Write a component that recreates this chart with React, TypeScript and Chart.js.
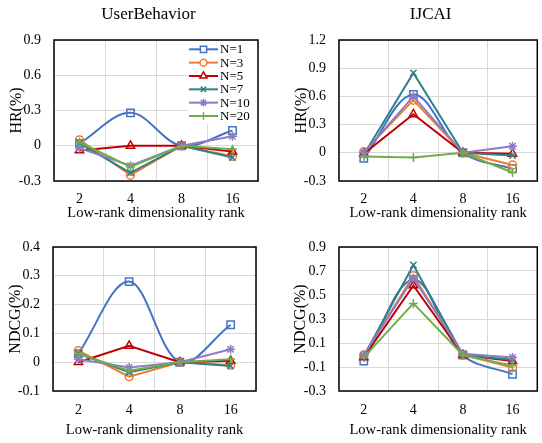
import React, { useEffect, useRef } from 'react';
import { Chart, registerables } from 'chart.js';
import { drawPoint } from 'chart.js/helpers';

Chart.register(...registerables);

const ranks = ['2', '4', '8', '16'];
const seriesNames = ['N=1', 'N=3', 'N=5', 'N=7', 'N=10', 'N=20'];
const seriesColors = ['#4472C4', '#ED7D31', '#C00000', '#2F8087', '#8E7CC3', '#70AD47'];
const seriesMarkers = ['rect', 'circle', 'triangle', 'crossRot', 'star', 'cross'];
const seriesMarkerRadius = [5.2, 4, 4.8, 4.5, 4.5, 4.5];
const seriesTension = [0.35, 0, 0, 0, 0, 0];

// HR(%) UserBehavior, per series N=1,3,5,7,10,20
const hrUserBehavior = [
  [0.02, 0.28, 0.0, 0.13],
  [0.05, -0.25, 0.0, -0.09],
  [-0.04, 0.0, 0.0, -0.05],
  [0.02, -0.23, 0.0, -0.1],
  [-0.02, -0.17, 0.0, 0.08],
  [0.03, -0.18, 0.0, -0.03],
];
// HR(%) IJCAI
const hrIJCAI = [
  [-0.06, 0.62, 0.0, -0.17],
  [0.01, 0.56, 0.0, -0.13],
  [-0.01, 0.41, 0.0, -0.01],
  [-0.02, 0.85, 0.0, -0.03],
  [0.0, 0.6, 0.0, 0.07],
  [-0.04, -0.05, 0.0, -0.21],
];
// NDCG(%) UserBehavior
const ndcgUserBehavior = [
  [0.03, 0.28, 0.0, 0.13],
  [0.04, -0.05, 0.0, -0.01],
  [0.0, 0.057, 0.0, 0.005],
  [0.03, -0.035, 0.0, -0.013],
  [0.01, -0.018, 0.0, 0.045],
  [0.03, -0.03, 0.0, 0.01],
];
// NDCG(%) IJCAI
const ndcgIJCAI = [
  [-0.05, 0.63, 0.0, -0.16],
  [0.0, 0.66, 0.0, -0.105],
  [-0.02, 0.58, 0.0, -0.05],
  [-0.01, 0.75, 0.0, -0.04],
  [0.0, 0.64, 0.01, -0.02],
  [-0.02, 0.43, 0.0, -0.09],
];

const hrUBTicks = [-0.3, 0, 0.3, 0.6, 0.9];
const hrIJTicks = [-0.3, 0, 0.3, 0.6, 0.9, 1.2];
const ndcgUBTicks = [-0.1, 0, 0.1, 0.2, 0.3, 0.4];
const ndcgIJTicks = [-0.3, -0.1, 0.1, 0.3, 0.5, 0.7, 0.9];

const FONT = "'Liberation Serif', 'Times New Roman', serif";

type PanelProps = {
  left: number; top: number; width: number; height: number;
  data: number[][]; ticks: number[]; yTitle: string; title?: string; legend?: boolean;
  padL: number; padT: number; padR: number; padB: number;
  yTitlePad: number; xTickPad: number; xTitlePad: number;
};

function Panel(p: PanelProps) {
  const ref = useRef<HTMLCanvasElement | null>(null);
  useEffect(() => {
    if (!ref.current) return;
    const plugin = {
      id: 'deco',
      afterDatasetsDraw(chart: any) {
        const ctx = chart.ctx;
        const a = chart.chartArea;
        if (p.legend) {
          ctx.save();
          ctx.fillStyle = '#fff';
          ctx.fillRect(a.right - 70, a.top + 1, 70, 83);
          seriesNames.forEach((name, i) => {
            const y = a.top + 9.3 + i * 13.34;
            ctx.strokeStyle = seriesColors[i];
            ctx.lineWidth = 2;
            ctx.beginPath();
            ctx.moveTo(a.right - 69, y);
            ctx.lineTo(a.right - 40, y);
            ctx.stroke();
            ctx.lineWidth = 1.5;
            ctx.fillStyle = 'rgba(255,255,255,1)';
            drawPoint(ctx, { pointStyle: seriesMarkers[i], radius: seriesMarkerRadius[i] * 0.85, rotation: 0, borderWidth: 1.5 } as any, a.right - 54.5, y);
            ctx.fillStyle = '#000';
            ctx.font = `13px ${FONT}`;
            ctx.textBaseline = 'middle';
            ctx.textAlign = 'left';
            ctx.fillText(name, a.right - 38, y + 0.5);
          });
          ctx.restore();
        }
      },
      afterDraw(chart: any) {
        const ctx = chart.ctx;
        const a = chart.chartArea;
        ctx.save();
        ctx.strokeStyle = '#000';
        ctx.lineWidth = 1.5;
        ctx.strokeRect(a.left, a.top, a.right - a.left, a.bottom - a.top);
        if (p.title) {
          ctx.fillStyle = '#000';
          ctx.font = `17px ${FONT}`;
          ctx.textAlign = 'center';
          ctx.textBaseline = 'middle';
          ctx.fillText(p.title, (a.left + a.right) / 2 - 7.5, 15);
        }
        ctx.restore();
      },
    };
    const chart = new Chart(ref.current, {
      type: 'line',
      data: {
        labels: ranks,
        datasets: p.data.map((vals, i) => ({
          label: seriesNames[i],
          data: vals,
          borderColor: seriesColors[i],
          backgroundColor: 'rgba(255,255,255,0)',
          borderWidth: 2,
          tension: seriesTension[i],
          pointStyle: seriesMarkers[i] as any,
          pointRadius: seriesMarkerRadius[i],
          pointBorderWidth: 1.5,
          pointBorderColor: seriesColors[i],
          pointBackgroundColor: 'rgba(255,255,255,0)',
          order: seriesNames.length - i,
          fill: false,
        })),
      },
      options: {
        animation: false,
        responsive: false,
        events: [],
        layout: { padding: { left: 0, top: p.padT, right: p.padR, bottom: 0 } },
        plugins: { legend: { display: false }, tooltip: { enabled: false }, title: { display: false } },
        scales: {
          x: {
            type: 'category',
            offset: true,
            grid: { offset: true, color: '#D9D9D9', lineWidth: 1, drawTicks: false },
            border: { display: false },
            ticks: { padding: p.xTickPad, color: '#000', font: { family: FONT, size: 14 } },
            title: {
              display: true, text: 'Low-rank dimensionality rank', color: '#000',
              font: { family: FONT, size: 14.6 }, padding: { top: 0, bottom: p.xTitlePad },
            },
            afterFit: (s: any) => { s.height = p.padB; },
          },
          y: {
            type: 'linear',
            min: p.ticks[0],
            max: p.ticks[p.ticks.length - 1],
            afterBuildTicks: (s: any) => { s.ticks = p.ticks.map((v) => ({ value: v })); },
            grid: { color: '#D9D9D9', lineWidth: 1, drawTicks: false },
            border: { display: false },
            ticks: {
              padding: 13, color: '#000', font: { family: FONT, size: 14 },
              callback: (v: any) => String(Math.round(Number(v) * 10) / 10),
            },
            title: {
              display: true, text: p.yTitle, color: '#000',
              font: { family: FONT, size: 16 }, padding: { top: p.yTitlePad, bottom: 0 },
            },
            afterFit: (s: any) => { s.width = p.padL; },
          },
        },
      } as any,
      plugins: [plugin],
    });
    return () => chart.destroy();
  }, []);
  return (
    <canvas
      ref={ref}
      width={p.width}
      height={p.height}
      style={{ position: 'absolute', left: p.left, top: p.top, width: p.width, height: p.height }}
    />
  );
}

export default function App() {
  return (
    <div style={{ position: 'absolute', left: 0, top: 0, width: 542, height: 443, overflow: 'hidden', background: '#fff' }}>
      <Panel left={0} top={0} width={271} height={222} data={hrUserBehavior} ticks={hrUBTicks}
        yTitle="HR(%)" title="UserBehavior" legend
        padL={54} padT={40} padR={13} padB={41} yTitlePad={7.1} xTickPad={9.9} xTitlePad={0} />
      <Panel left={271} top={0} width={273} height={222} data={hrIJCAI} ticks={hrIJTicks}
        yTitle="HR(%)" title="IJCAI"
        padL={68} padT={40} padR={1} padB={41} yTitlePad={21.4} xTickPad={9.9} xTitlePad={0} />
      <Panel left={0} top={222} width={271} height={221} data={ndcgUserBehavior} ticks={ndcgUBTicks}
        yTitle="NDCG(%)"
        padL={53} padT={25} padR={15} padB={52} yTitlePad={6.1} xTickPad={10.9} xTitlePad={4.2} />
      <Panel left={271} top={222} width={273} height={221} data={ndcgIJCAI} ticks={ndcgIJTicks}
        yTitle="NDCG(%)"
        padL={68} padT={25} padR={1} padB={52} yTitlePad={20.4} xTickPad={10.9} xTitlePad={4.2} />
    </div>
  );
}
